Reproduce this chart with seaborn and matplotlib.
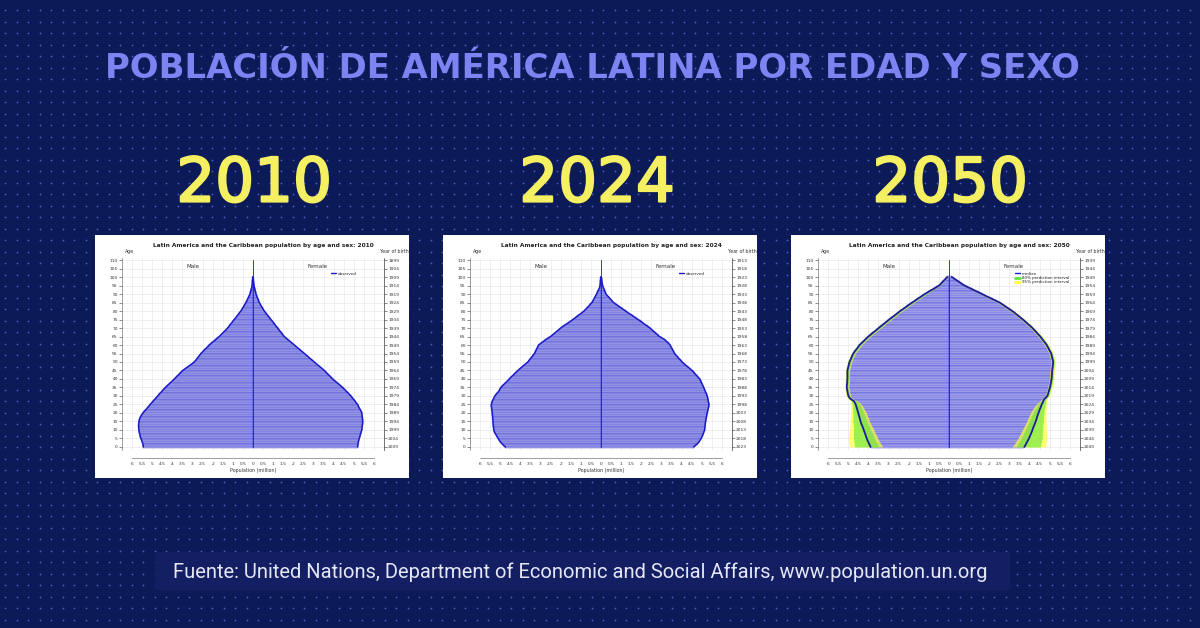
import numpy as np
import pandas as pd
import matplotlib
matplotlib.use("Agg")
import matplotlib.pyplot as plt
import matplotlib.patheffects as pe
import seaborn as sns
from matplotlib.patches import Rectangle
from matplotlib.lines import Line2D

# ---- datos (millones de personas por edad simple) ----
ages = list(range(0, 101))

male_2010 = [
    5.44, 5.45, 5.47, 5.50, 5.53, 5.56, 5.59, 5.61, 5.63, 5.65,
    5.66, 5.67, 5.68, 5.68, 5.67, 5.66, 5.64, 5.61, 5.57, 5.52,
    5.46, 5.39, 5.31, 5.24, 5.17, 5.10, 5.03, 4.95, 4.88, 4.80,
    4.73, 4.66, 4.58, 4.50, 4.43, 4.35, 4.26, 4.17, 4.08, 3.99,
    3.90, 3.82, 3.74, 3.65, 3.57, 3.49, 3.37, 3.25, 3.13, 3.02,
    2.91, 2.84, 2.78, 2.71, 2.65, 2.58, 2.50, 2.42, 2.33, 2.25,
    2.17, 2.07, 1.97, 1.87, 1.77, 1.67, 1.59, 1.51, 1.42, 1.34,
    1.26, 1.19, 1.13, 1.06, 1.00, 0.93, 0.86, 0.80, 0.73, 0.67,
    0.60, 0.55, 0.50, 0.45, 0.40, 0.35, 0.31, 0.27, 0.23, 0.19,
    0.15, 0.13, 0.11, 0.08, 0.06, 0.05, 0.04, 0.03, 0.03, 0.02,
    0.02]
female_2010 = [
    5.19, 5.20, 5.22, 5.23, 5.25, 5.27, 5.30, 5.32, 5.35, 5.37,
    5.40, 5.41, 5.42, 5.43, 5.44, 5.44, 5.44, 5.43, 5.42, 5.41,
    5.40, 5.36, 5.32, 5.27, 5.23, 5.19, 5.12, 5.06, 4.99, 4.93,
    4.86, 4.78, 4.70, 4.61, 4.53, 4.45, 4.35, 4.25, 4.15, 4.05,
    3.95, 3.87, 3.79, 3.70, 3.62, 3.54, 3.44, 3.34, 3.24, 3.14,
    3.04, 2.94, 2.84, 2.75, 2.65, 2.55, 2.45, 2.35, 2.25, 2.15,
    2.05, 1.95, 1.85, 1.75, 1.65, 1.55, 1.48, 1.42, 1.35, 1.29,
    1.22, 1.15, 1.09, 1.02, 0.96, 0.89, 0.82, 0.76, 0.69, 0.63,
    0.56, 0.51, 0.46, 0.41, 0.36, 0.31, 0.28, 0.25, 0.21, 0.18,
    0.15, 0.13, 0.11, 0.09, 0.07, 0.05, 0.04, 0.03, 0.02, 0.02,
    0.01]

male_2024 = [
    4.74, 4.84, 4.92, 4.99, 5.05, 5.10, 5.15, 5.20, 5.25, 5.29,
    5.32, 5.33, 5.34, 5.35, 5.36, 5.36, 5.37, 5.38, 5.38, 5.39,
    5.39, 5.41, 5.42, 5.43, 5.44, 5.44, 5.42, 5.39, 5.35, 5.31,
    5.27, 5.20, 5.13, 5.06, 5.02, 4.97, 4.89, 4.80, 4.72, 4.63,
    4.55, 4.47, 4.38, 4.30, 4.21, 4.13, 4.03, 3.93, 3.83, 3.73,
    3.63, 3.56, 3.50, 3.43, 3.37, 3.30, 3.26, 3.22, 3.18, 3.14,
    3.10, 2.98, 2.87, 2.76, 2.63, 2.50, 2.40, 2.30, 2.20, 2.10,
    2.00, 1.88, 1.76, 1.63, 1.51, 1.39, 1.28, 1.17, 1.06, 0.95,
    0.84, 0.76, 0.68, 0.60, 0.53, 0.45, 0.40, 0.36, 0.31, 0.27,
    0.22, 0.18, 0.14, 0.10, 0.07, 0.05, 0.04, 0.03, 0.03, 0.02,
    0.02]
female_2024 = [
    4.60, 4.70, 4.79, 4.86, 4.92, 4.97, 5.01, 5.05, 5.08, 5.11,
    5.14, 5.15, 5.16, 5.17, 5.18, 5.19, 5.21, 5.22, 5.24, 5.25,
    5.27, 5.29, 5.31, 5.33, 5.35, 5.36, 5.34, 5.32, 5.31, 5.29,
    5.27, 5.24, 5.20, 5.17, 5.13, 5.10, 5.06, 5.02, 4.98, 4.94,
    4.90, 4.82, 4.75, 4.67, 4.60, 4.52, 4.42, 4.32, 4.22, 4.12,
    4.02, 3.95, 3.87, 3.80, 3.72, 3.65, 3.61, 3.56, 3.52, 3.47,
    3.43, 3.35, 3.26, 3.18, 3.04, 2.90, 2.81, 2.71, 2.62, 2.52,
    2.43, 2.31, 2.19, 2.08, 1.96, 1.84, 1.72, 1.59, 1.47, 1.34,
    1.22, 1.10, 0.98, 0.86, 0.74, 0.62, 0.55, 0.47, 0.40, 0.32,
    0.25, 0.22, 0.18, 0.15, 0.11, 0.08, 0.07, 0.05, 0.04, 0.03,
    0.02]

male_2050 = [
    3.89, 3.93, 3.97, 4.01, 4.05, 4.08, 4.11, 4.14, 4.17, 4.20,
    4.23, 4.26, 4.29, 4.33, 4.36, 4.39, 4.41, 4.43, 4.46, 4.48,
    4.50, 4.53, 4.55, 4.58, 4.60, 4.63, 4.67, 4.72, 4.85, 4.94,
    4.99, 5.01, 5.03, 5.04, 5.06, 5.07, 5.07, 5.06, 5.05, 5.05,
    5.04, 5.04, 5.04, 5.04, 5.04, 5.04, 5.02, 5.00, 4.98, 4.96,
    4.94, 4.90, 4.86, 4.83, 4.79, 4.75, 4.69, 4.63, 4.56, 4.50,
    4.44, 4.35, 4.26, 4.18, 4.09, 4.00, 3.90, 3.80, 3.69, 3.59,
    3.49, 3.39, 3.28, 3.18, 3.07, 2.97, 2.86, 2.75, 2.64, 2.53,
    2.42, 2.30, 2.18, 2.07, 1.95, 1.83, 1.70, 1.58, 1.45, 1.33,
    1.20, 1.06, 0.92, 0.77, 0.63, 0.49, 0.41, 0.33, 0.25, 0.17,
    0.09]
female_2050 = [
    3.74, 3.79, 3.83, 3.88, 3.92, 3.97, 4.00, 4.04, 4.07, 4.11,
    4.14, 4.17, 4.20, 4.24, 4.27, 4.30, 4.33, 4.36, 4.38, 4.41,
    4.44, 4.47, 4.50, 4.54, 4.57, 4.60, 4.64, 4.68, 4.72, 4.80,
    4.88, 4.91, 4.93, 4.96, 4.98, 5.01, 5.03, 5.04, 5.06, 5.07,
    5.09, 5.10, 5.10, 5.11, 5.11, 5.12, 5.13, 5.14, 5.15, 5.16,
    5.17, 5.15, 5.13, 5.11, 5.09, 5.07, 5.03, 4.98, 4.94, 4.89,
    4.85, 4.79, 4.72, 4.66, 4.59, 4.53, 4.45, 4.37, 4.30, 4.22,
    4.14, 4.05, 3.95, 3.86, 3.76, 3.67, 3.56, 3.46, 3.35, 3.25,
    3.14, 3.01, 2.89, 2.76, 2.64, 2.51, 2.34, 2.16, 1.99, 1.81,
    1.64, 1.47, 1.29, 1.12, 0.94, 0.77, 0.64, 0.52, 0.39, 0.27,
    0.14]

# intervalos de predicción 2050: distancia a la mediana (hacia fuera / hacia dentro)
young95_out = [1.05, 1.02, 0.99, 0.96, 0.93, 0.90, 0.86, 0.82, 0.78, 0.74,
               0.70, 0.66, 0.62, 0.58, 0.55, 0.52, 0.49, 0.46, 0.43, 0.40,
               0.38, 0.35, 0.32, 0.29, 0.26, 0.24, 0.22]
young95_in = [0.60, 0.59, 0.58, 0.57, 0.56, 0.55, 0.54, 0.53, 0.52, 0.51,
              0.50, 0.49, 0.48, 0.47, 0.46, 0.45, 0.44, 0.43, 0.42, 0.41,
              0.40, 0.38, 0.36, 0.34, 0.32, 0.28, 0.24]
young80_out = [0.78, 0.76, 0.73, 0.71, 0.68, 0.66, 0.63, 0.60, 0.57, 0.54,
               0.51, 0.48, 0.45, 0.42, 0.40, 0.38, 0.36, 0.33, 0.31, 0.29,
               0.27, 0.25, 0.23, 0.21, 0.19, 0.17, 0.16]
young80_in = [0.42, 0.41, 0.41, 0.40, 0.39, 0.39, 0.38, 0.37, 0.37, 0.36,
              0.35, 0.35, 0.34, 0.33, 0.33, 0.32, 0.31, 0.30, 0.30, 0.29,
              0.28, 0.27, 0.25, 0.24, 0.22, 0.20, 0.17]
older95 = [0.16, 0.13, 0.12,
           0.11, 0.11, 0.11, 0.11, 0.11, 0.11, 0.11, 0.11, 0.11, 0.11,
           0.11, 0.11, 0.11, 0.11, 0.11, 0.11, 0.11, 0.11, 0.11, 0.11,
           0.11, 0.11, 0.11, 0.11, 0.11, 0.11, 0.11, 0.11, 0.11, 0.11,
           0.11, 0.11, 0.11, 0.11, 0.11, 0.11, 0.11, 0.11, 0.11, 0.11,
           0.11, 0.11, 0.11, 0.11, 0.11, 0.11, 0.11, 0.11, 0.11, 0.11,
           0.11, 0.11, 0.11, 0.11, 0.11, 0.11, 0.10, 0.10, 0.10, 0.10,
           0.09, 0.08, 0.07, 0.06, 0.05, 0.04, 0.04, 0.03, 0.03, 0.02, 0.02]
older80 = [0.11, 0.09, 0.08,
           0.07, 0.07, 0.07, 0.07, 0.07, 0.07, 0.07, 0.07, 0.07, 0.07,
           0.07, 0.07, 0.07, 0.07, 0.07, 0.07, 0.07, 0.07, 0.07, 0.07,
           0.07, 0.07, 0.07, 0.07, 0.07, 0.07, 0.07, 0.07, 0.07, 0.07,
           0.07, 0.07, 0.07, 0.07, 0.07, 0.07, 0.07, 0.07, 0.07, 0.07,
           0.07, 0.07, 0.07, 0.07, 0.07, 0.07, 0.07, 0.07, 0.07, 0.07,
           0.07, 0.07, 0.07, 0.07, 0.07, 0.07, 0.07, 0.07, 0.07, 0.07,
           0.06, 0.05, 0.05, 0.04, 0.04, 0.03, 0.03, 0.02, 0.02, 0.01, 0.01]

years = ["2010", "2024", "2050"]
age_ticks = list(range(0, 111, 5))
pop_ticks = [-6, -5.5, -5, -4.5, -4, -3.5, -3, -2.5, -2, -1.5, -1, -0.5, 0,
             0.5, 1, 1.5, 2, 2.5, 3, 3.5, 4, 4.5, 5, 5.5, 6]

titulo = "POBLACIÓN DE AMÉRICA LATINA POR EDAD Y SEXO"
fuente = ("Fuente: United Nations, Department of Economic and Social Affairs, "
          "www.population.un.org")
subtitulo = "Latin America and the Caribbean population by age and sex: {}"

# ---- estilo ----
sns.set_theme(style="white")
plt.rcParams["font.family"] = ["DejaVu Sans"]

W, H = 1200, 628
BG = "#0d1a58"
DOT = "#5d74d8"
BAR_FILL = "#9c9cf1"
BAR_EDGE = "#4646dc"
LINE = "#1a1ac8"
GREEN = "#5ce63a"
YELLOW = "#ffff38"

fig = plt.figure(figsize=(12, 6.28), dpi=100)
fig.patch.set_facecolor(BG)

# fondo con puntos
bg = fig.add_axes([0, 0, 1, 1], zorder=-5)
bg.set_xlim(0, W)
bg.set_ylim(H, 0)
bg.axis("off")
gx, gy = np.meshgrid(np.arange(5, W, 11.5), np.arange(10, H, 11.5))
bg.scatter(gx.ravel(), gy.ravel(), s=1.6, color=DOT, alpha=0.8, linewidths=0)

bg.text(592, 68, titulo, color="#7d84f2", fontsize=24.4, fontweight="heavy",
        ha="center", va="center")

panel_x = [95, 443, 791]
year_x = [254, 597, 950]
PW, PH, PY = 314, 243, 235

for px in panel_x:
    bg.add_patch(Rectangle((px, PY), PW, PH, facecolor="white", edgecolor="none"))

bg.add_patch(Rectangle((155, 552), 855, 38, facecolor="#141e63", edgecolor="none"))
bg.text(580, 572, fuente, color="#e4e7f6", fontsize=14.5, family=["Roboto", "DejaVu Sans"],
        ha="center", va="center")

for yx, yr in zip(year_x, years):
    bg.text(yx, 185, yr, color="#f4f062", fontsize=44, ha="center", va="center",
            path_effects=[pe.withStroke(linewidth=1.6, foreground="#f4f062")])


def pyramid(px, year, male, female, intervals=None):
    ax = fig.add_axes([(px + 27) / W, 1 - (PY + 214.5) / H, 262 / W, 192 / H])
    male = np.array(male)
    female = np.array(female)
    df = pd.DataFrame({
        "age": ages + ages,
        "pop": list(-male) + list(female),
        "sex": ["Male"] * len(ages) + ["Female"] * len(ages),
    })
    fill = BAR_FILL if intervals is None else "#aaaaf4"
    sns.barplot(data=df, x="pop", y="age", hue="sex", orient="y", native_scale=True,
                dodge=False, palette={"Male": fill, "Female": fill}, width=1.0,
                errorbar=None, edgecolor=BAR_EDGE, linewidth=0.3, legend=False, ax=ax)

    if intervals is not None:
        o95, i95, o80, i80 = [np.array(v) for v in intervals]
        for sign, v in ((-1, male), (1, female)):
            ax.fill_betweenx(ages, sign * (v + o95), sign * (v - i95),
                             color=YELLOW, alpha=0.7, lw=0, zorder=3)
            ax.fill_betweenx(ages, sign * (v + o80), sign * (v - i80),
                             color=GREEN, alpha=0.6, lw=0, zorder=3)
    lw = 1.1 if intervals is None else 1.3
    col = LINE if intervals is None else "#1c1c9c"
    ax.plot(-male, ages, color=col, lw=lw, zorder=4)
    ax.plot(female, ages, color=col, lw=lw, zorder=4)
    ax.plot([0, 0], [0, 110], color=LINE, lw=0.6, zorder=4)

    ax.set_xlim(-6.5, 6.5)
    ax.set_ylim(-1.5, 111.5)
    ax.set_facecolor("white")
    ax.set_xticks(pop_ticks)
    ax.set_xticklabels([f"{abs(t):g}" for t in pop_ticks])
    ax.set_yticks(age_ticks)
    ax.set_yticklabels([str(a) for a in age_ticks])
    ax.set_xlabel("Population (million)", fontsize=3.4, color="#333333", labelpad=1.5)
    ax.set_ylabel("")
    ax.grid(True, color="#e4e4e4", lw=0.4)
    ax.set_axisbelow(True)
    ax.tick_params(labelsize=3.2, colors="#333333", length=2, width=0.4, pad=1)
    ax.spines["top"].set_visible(False)
    ax.spines["bottom"].set_position(("outward", 6))
    ax.spines["bottom"].set_bounds(-6, 6)
    for s in ["left", "right", "bottom"]:
        ax.spines[s].set_color("#555555")
        ax.spines[s].set_linewidth(0.4)

    ax2 = ax.twinx()
    ax2.set_ylim(ax.get_ylim())
    ax2.set_yticks(age_ticks)
    ax2.set_yticklabels([str(int(year) - 1 - a) for a in age_ticks])
    ax2.tick_params(labelsize=3.2, colors="#333333", length=2, width=0.4, pad=1)
    for s in ["top", "bottom", "left"]:
        ax2.spines[s].set_visible(False)
    ax2.spines["right"].set_color("#555555")
    ax2.spines["right"].set_linewidth(0.4)
    ax2.grid(False)

    ax.text(0.54, 1.065, subtitulo.format(year), transform=ax.transAxes,
            fontsize=4.2, fontweight="bold", ha="center", va="center", color="#222222")
    ax.text(0.03, 1.03, "Age", transform=ax.transAxes, fontsize=3.4,
            ha="center", va="center", color="#333333")
    ax.text(1.04, 1.03, "Year of birth", transform=ax.transAxes, fontsize=3.4,
            ha="center", va="center", color="#333333")
    ax.text(-3.0, 106, "Male", fontsize=4, ha="center", va="center", color="#333333")
    ax.text(3.2, 106, "Female", fontsize=4, ha="center", va="center", color="#333333")

    if intervals is None:
        handles = [Line2D([0], [0], color=LINE, lw=1)]
        labels = ["observed"]
        anchor = (0.79, 0.935)
    else:
        handles = [Line2D([0], [0], color=LINE, lw=1),
                   Line2D([0], [0], color=GREEN, lw=2),
                   Line2D([0], [0], color=YELLOW, lw=2)]
        labels = ["median", "80% prediction interval", "95% prediction interval"]
        anchor = (0.745, 0.935)
    ax.legend(handles, labels, loc="upper left", bbox_to_anchor=anchor,
              frameon=False, fontsize=2.9, handlelength=1.3, labelspacing=0.1,
              handletextpad=0.4, borderaxespad=0)
    return ax


pyramid(panel_x[0], years[0], male_2010, female_2010)
pyramid(panel_x[1], years[1], male_2024, female_2024)
pyramid(panel_x[2], years[2], male_2050, female_2050,
        intervals=(young95_out + older95, young95_in + older95,
                   young80_out + older80, young80_in + older80))

fig.savefig("out.png", dpi=100, facecolor=BG)
